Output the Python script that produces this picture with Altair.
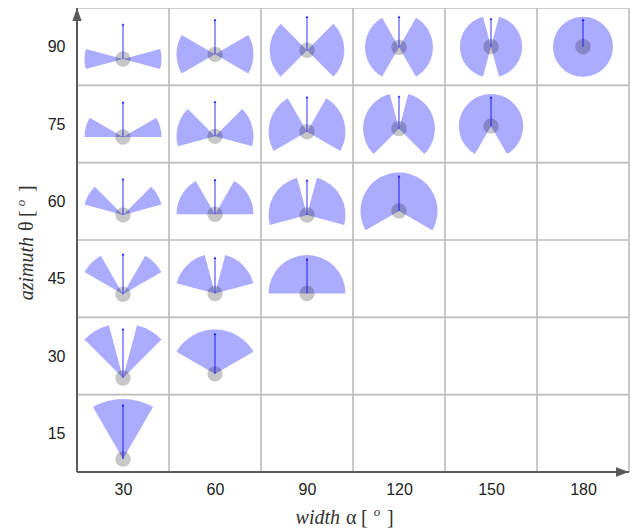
import math
import altair as alt
import pandas as pd

# ---- data -------------------------------------------------------------
widths = [30, 60, 90, 120, 150, 180]          # width alpha [deg]
azimuths = [15, 30, 45, 60, 75, 90]           # azimuth theta [deg]

# ---- layout -----------------------------------------------------------
PW, PH = 552, 464
PAD_L, PAD_T, PAD_R, PAD_B = 69, 0, 7, 60
step_x = widths[1] - widths[0]
step_y = azimuths[1] - azimuths[0]
x_lo, x_hi = widths[0] - step_x / 2, widths[-1] + step_x / 2
y_lo, y_hi = azimuths[0] - step_y / 2, azimuths[-1] + step_y / 2
px_y = PH / (y_hi - y_lo)  # pixels per degree (y)

W_MAX, H_MAX, RC, ARROW = 77.0, 60.0, 8.7, 0.9

arcs, centers = [], []
for a in widths:
    for t in azimuths:
        if a > 2 * t:
            continue
        a1, a2 = t - a / 2, t + a / 2
        r1, r2 = math.radians(a1), math.radians(a2)
        half = 1.0 if a1 <= 90 <= a2 else max(math.sin(r1), math.sin(r2))
        top = max(math.cos(r1), ARROW)
        bot = max(0.0, -math.cos(r2))
        R = min(W_MAX / (2 * half), H_MAX / (top + bot))
        shift = (max(R * top, RC) - max(R * bot, RC)) / 2
        yc = t - shift / px_y
        ytip = yc + ARROW * R / px_y
        arcs.append(dict(x=a, y=yc, start=r1, end=r2, R=R))
        arcs.append(dict(x=a, y=yc, start=2 * math.pi - r2, end=2 * math.pi - r1, R=R))
        centers.append(dict(x=a, y=yc, ytip=ytip))

arc_df = pd.DataFrame(arcs)
cen_df = pd.DataFrame(centers)

xb = [w - step_x / 2 for w in widths] + [x_hi]
yb = [v - step_y / 2 for v in azimuths] + [y_hi]
vgrid = pd.DataFrame({"x": xb[1:], "y": y_lo, "y2": y_hi})
hgrid = pd.DataFrame({"y": yb[1:], "x": x_lo, "x2": x_hi})

xs = alt.Scale(domain=[x_lo, x_hi], nice=False, zero=False)
ys = alt.Scale(domain=[y_lo, y_hi], nice=False, zero=False)
xaxis = alt.Axis(values=widths, title=None, domain=False, ticks=False, grid=False,
                 labelFont="Liberation Sans", labelFontSize=16, labelColor="#222222",
                 labelPadding=9)
yaxis = alt.Axis(values=azimuths, title=None, domain=False, ticks=False, grid=False,
                 labelFont="Liberation Sans", labelFontSize=16, labelColor="#222222",
                 labelPadding=12)
X = lambda f="x": alt.X(f + ":Q", scale=xs, axis=xaxis)
Y = lambda f="y": alt.Y(f + ":Q", scale=ys, axis=yaxis)

GRID = "#bcbcbc"
AXC = "#5a5a5a"

vg = alt.Chart(vgrid).mark_rule(color=GRID, strokeWidth=1.6).encode(x=X(), y=Y(), y2="y2:Q")
hg = alt.Chart(hgrid).mark_rule(color=GRID, strokeWidth=1.6).encode(y=Y(), x=X(), x2="x2:Q")

axes_df = pd.DataFrame({"x": [x_lo], "y": [y_lo], "x2": [x_hi], "y2": [y_hi]})
xline = alt.Chart(axes_df).mark_rule(color=AXC, strokeWidth=2).encode(x=X(), x2="x2:Q", y=Y())
yline = alt.Chart(axes_df).mark_rule(color=AXC, strokeWidth=2).encode(x=X(), y=Y(), y2="y2:Q")
yhead = alt.Chart(pd.DataFrame({"x": [x_lo], "y": [y_hi]})).mark_point(
    shape="M0,0L-0.36,1L0.36,1Z", size=26 * 26, filled=True, color=AXC, opacity=1
).encode(x=X(), y=Y())
xhead = alt.Chart(pd.DataFrame({"x": [x_hi], "y": [y_lo]})).mark_point(
    shape="M0,0L-1,-0.36L-1,0.36Z", size=26 * 26, filled=True, color=AXC, opacity=1
).encode(x=X(), y=Y())

wedges = alt.Chart(arc_df).mark_arc(color="#0000ff", opacity=0.33).encode(
    x=X(), y=Y(),
    theta=alt.Theta("start:Q", scale=None, stack=None),
    theta2="end:Q",
    radius=alt.Radius("R:Q", scale=None),
)
dots = alt.Chart(cen_df).mark_circle(color="#000000", opacity=0.22, size=math.pi * RC * RC).encode(
    x=X(), y=Y())
arrows = alt.Chart(cen_df).mark_rule(color="#0000ff", opacity=0.5, strokeWidth=1.6).encode(
    x=X(), y=Y(), y2="ytip:Q")
heads = alt.Chart(cen_df).mark_point(shape="triangle-up", filled=True, size=8,
                                     color="#0000ff", opacity=0.8).encode(x=X(), y=Y("ytip"))

one = pd.DataFrame({"k": [0]})
def txt(s, x, y, size=20, style="normal", align="left", angle=0):
    return alt.Chart(one).mark_text(
        text=s, font="Liberation Serif", fontSize=size, fontStyle=style, color="#333333",
        align=align, baseline="alphabetic", angle=angle
    ).encode(x=alt.value(x), y=alt.value(y))

# x-axis title: "width α [ o ]"
XB = 516
xt = [
    txt("width", 263, XB, style="italic", align="right"),
    txt("α", 269, XB),
    txt("[", 284, XB),
    txt("o", 300, XB - 8, size=13, style="italic", align="center"),
    txt("]", 310, XB),
]
# y-axis title: "azimuth θ [ o ]" (rotated)
YB = -44
yt = [
    txt("azimuth", YB, 229, style="italic", align="right", angle=270),
    txt("θ", YB, 223, angle=270),
    txt("[", YB, 209, angle=270),
    txt("o", YB - 8, 195, size=13, style="italic", align="center", angle=270),
    txt("]", YB, 184, angle=270),
]

chart = alt.layer(vg, hg, wedges, dots, arrows, heads, xline, yline, yhead, xhead, *xt, *yt).properties(
    width=PW, height=PH,
    autosize=alt.AutoSizeParams(type="none"),
    padding={"left": PAD_L, "top": PAD_T, "right": PAD_R, "bottom": PAD_B},
).configure_view(stroke=None)

chart.save("out.html", embed_options={"renderer": "svg", "actions": False})
